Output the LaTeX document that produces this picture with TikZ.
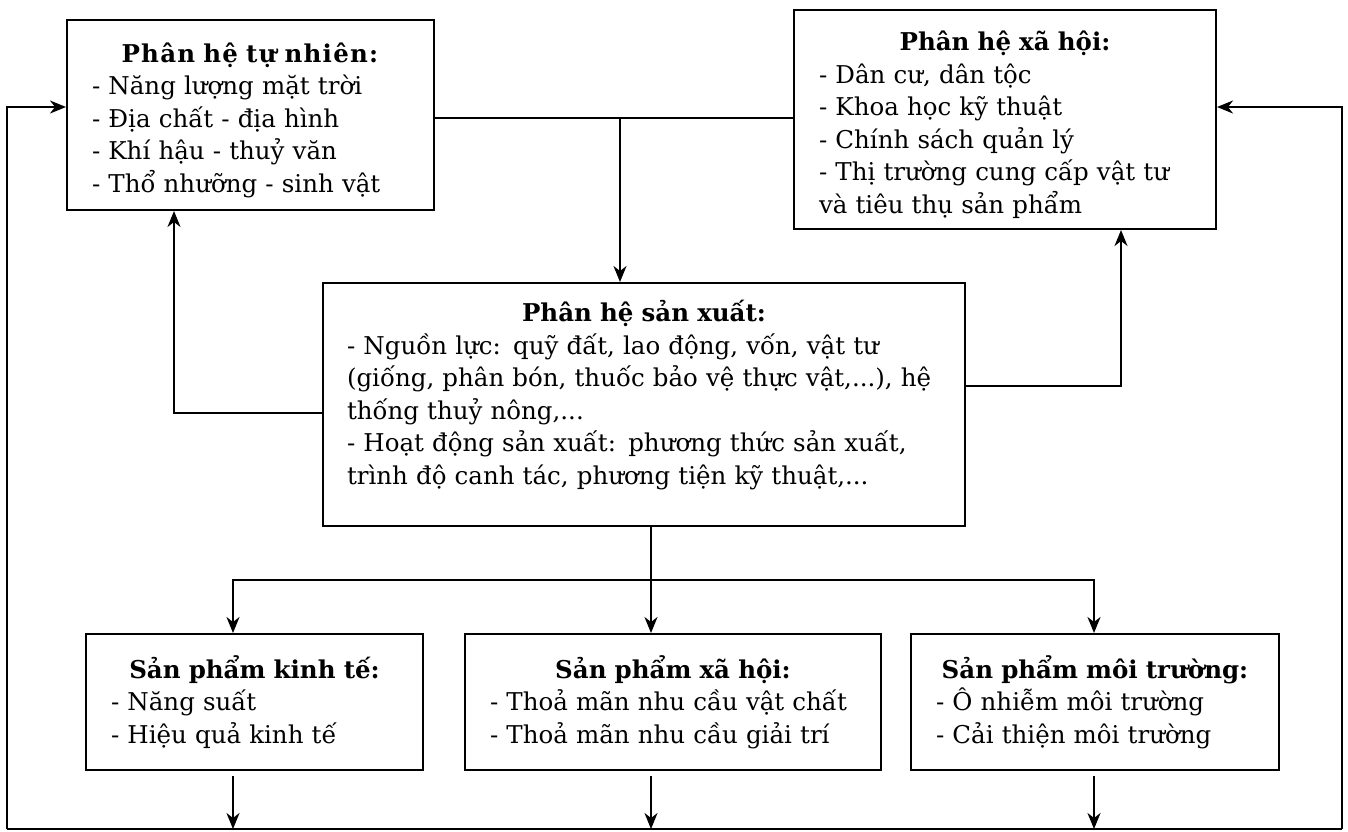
\documentclass[tikz,border=0pt]{standalone}
\usepackage{fontspec}
\setmainfont{DejaVu Serif}
\usetikzlibrary{arrows.meta}

\begin{document}
\begin{tikzpicture}[x=1pt,y=-1pt]
    \tikzset{box/.style = {shape=rectangle, draw, line width=2pt, inner xsep=25pt, inner ysep=0pt, align=left, font=\fontsize{24.5}{32.5}\selectfont}}
    \tikzset{link/.style = {draw, line width=2pt}}
    \tikzset{edge/.style = {link, -{Stealth[length=16pt,width=13pt,inset=5pt]}}}
    \useasboundingbox (0,0) rectangle (1348,831);

    % boxes
    \node[box, minimum width=367pt, minimum height=190pt, text width=317pt] (tn) at (250.5,115) {\hfil\rule{0pt}{30pt}{\addfontfeatures{LetterSpace=5}\textbf{Phân hệ tự nhiên:}}\\- Năng lượng mặt trời\\- Địa chất - địa hình\\- Khí hậu - thuỷ văn\\- Thổ nhưỡng - sinh vật};
    \node[box, minimum width=422pt, minimum height=219pt, text width=372pt] (xh) at (1005,119.5) {\hfil\rule{0pt}{30pt}\textbf{Phân hệ xã hội:}\\- Dân cư, dân tộc\\- Khoa học kỹ thuật\\- Chính sách quản lý\\- Thị trường cung cấp vật tư\\và tiêu thụ sản phẩm};
    \node[box, inner xsep=24pt, minimum width=642pt, minimum height=243pt, text width=594pt] (sx) at (644,404.5) {\hfil\textbf{Phân hệ sản xuất:}\\- Nguồn lực: quỹ đất, lao động, vốn, vật tư\\(giống, phân bón, thuốc bảo vệ thực vật,...), hệ\\thống thuỷ nông,...\\- Hoạt động sản xuất: phương thức sản xuất,\\trình độ canh tác, phương tiện kỹ thuật,...\\[-8pt]\mbox{}};
    \node[box, minimum width=337pt, minimum height=136pt, text width=287pt] (kt) at (254.5,702) {\hfil\textbf{Sản phẩm kinh tế:}\\- Năng suất\\- Hiệu quả kinh tế};
    \node[box, minimum width=416pt, minimum height=136pt, text width=366pt] (xhp) at (673,702) {\hfil\textbf{Sản phẩm xã hội:}\\- Thoả mãn nhu cầu vật chất\\- Thoả mãn nhu cầu giải trí};
    \node[box, minimum width=368pt, minimum height=136pt, text width=318pt] (mt) at (1095,702) {\hfil\textbf{Sản phẩm môi trường:}\\- Ô nhiễm môi trường\\- Cải thiện môi trường};

    % turning points
    \coordinate (top) at (620,118);
    \coordinate (sl) at (174,413);
    \coordinate (sr) at (1121,386);
    \coordinate (split) at (651,580);
    \coordinate (a1) at (233,580);
    \coordinate (a3) at (1094,580);
    \coordinate (bl) at (7,829);
    \coordinate (br) at (1342,829);
    \coordinate (tl) at (7,107);

    % arrows
    \draw[link] (tn.east |- top) -- (xh.west |- top);
    \draw[edge] (top) -- (top |- sx.north);
    \draw[edge] (sx.west |- sl) -| (sl |- tn.south);
    \draw[edge] (sx.east |- sr) -| (sr |- xh.south);
    \draw[link] (sx.south -| split) -- (split);
    \draw[edge] (split) -| (a1 |- kt.north);
    \draw[edge] (split) -- (split |- xhp.north);
    \draw[edge] (split) -| (a3 |- mt.north);
    \foreach \n/\a in {kt/a1, xhp/split, mt/a3}
        \draw[edge, shorten <=5pt] (\a |- \n.south) -- (\a |- bl);
    \draw[link] (bl) -- (br);
    \draw[edge] (bl) |- (tn.west |- tl);
    \draw[edge] (br) |- (xh.east |- tl);
\end{tikzpicture}
\end{document}
